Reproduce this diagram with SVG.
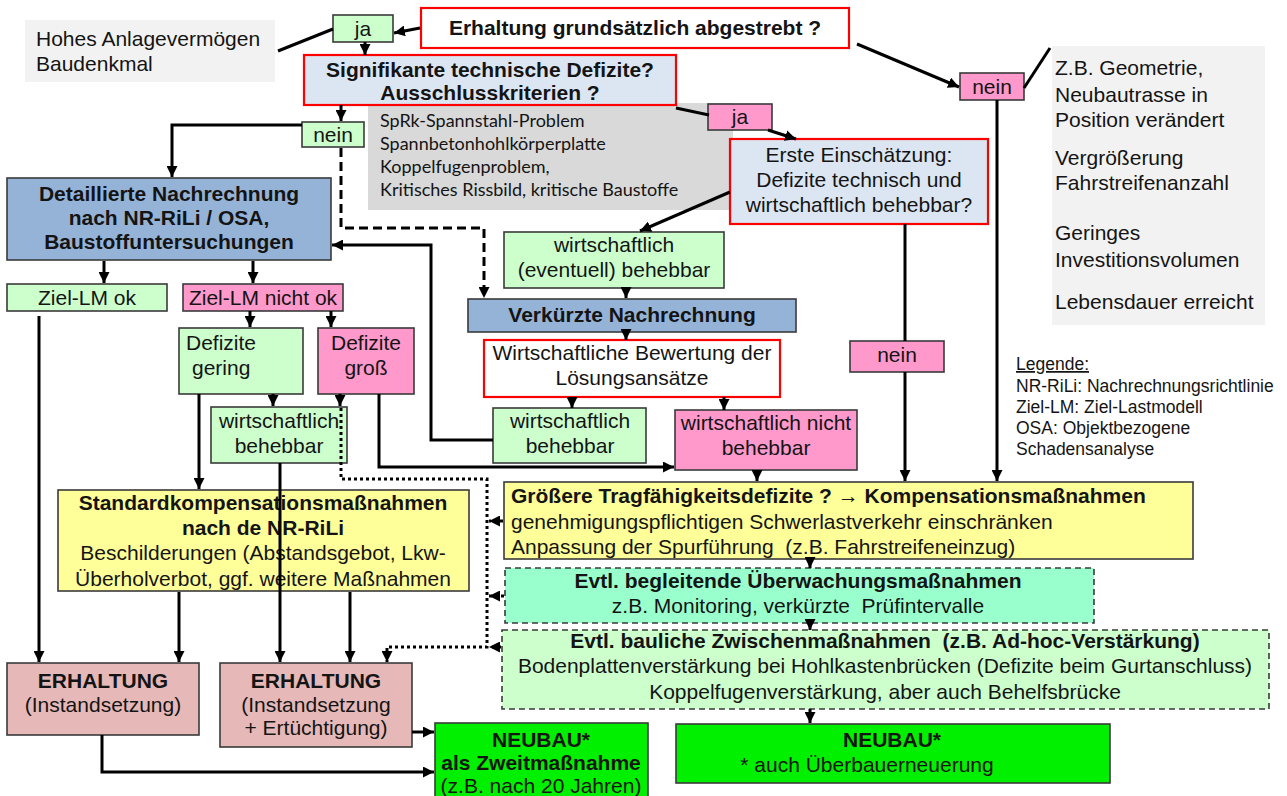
<svg xmlns="http://www.w3.org/2000/svg" width="1287" height="796" viewBox="0 0 1287 796">
<defs>
<style>
.t{font-family:"Liberation Sans",Arial,sans-serif;font-size:21px;fill:#141414}
.b{font-weight:bold}
.c{text-anchor:middle}
.cal{font-family:Lato,"Liberation Sans",sans-serif;font-size:18px}
.leg{font-size:17.5px}
.bx{stroke:#3a3a3a;stroke-width:1.6}
.rd{stroke:#ff0000;stroke-width:2.2}
.dbx{stroke:#3a3a3a;stroke-width:1.6;stroke-dasharray:6 4}
.gn{fill:#ccffcc}
.pk{fill:#ff99cc}
.lb{fill:#dce6f2}
.mb{fill:#95b3d7}
.ye{fill:#ffff99}
.er{fill:#e6b9b8}
.ng{fill:#00f000}
.ln{stroke:#000;stroke-width:3;fill:none}
.dash{stroke-dasharray:9 5}
.dot{stroke-dasharray:3 3}
</style>
<marker id="ah" markerUnits="userSpaceOnUse" viewBox="0 0 10 10" refX="10" refY="5" markerWidth="11" markerHeight="11" orient="auto">
<path d="M0,0 L10,5 L0,10 z" fill="#000"/>
</marker>
</defs>
<rect width="1287" height="796" fill="#ffffff"/>

<g id="n-hohes">
<rect x="25" y="20" width="250" height="62" fill="#f2f2f2"/>
<text class="t" x="36" y="46">Hohes Anlagevermögen</text>
<text class="t" x="36" y="71">Baudenkmal</text>
</g>
<g id="n-ja1">
<rect class="bx gn" x="333" y="15" width="60" height="27"/>
<text class="t c" x="363" y="36">ja</text>
</g>
<g id="n-erhaltung-q">
<rect class="rd" fill="#fff" x="421" y="8" width="428" height="40"/>
<text class="t b c" x="635" y="35">Erhaltung grundsätzlich abgestrebt ?</text>
</g>
<g id="n-sprk">
<rect x="368" y="103" width="365" height="107" fill="#d9d9d9"/>
<text class="t cal" x="380" y="127">SpRk-Spannstahl-Problem</text>
<text class="t cal" x="380" y="150">Spannbetonhohlkörperplatte</text>
<text class="t cal" x="380" y="173">Koppelfugenproblem,</text>
<text class="t cal" x="380" y="196">Kritisches Rissbild, kritische Baustoffe</text>
</g>
<g id="n-signifikant">
<rect class="rd lb" x="304" y="55" width="372" height="50"/>
<text class="t b c" x="490" y="77">Signifikante technische Defizite?</text>
<text class="t b c" x="490" y="100">Ausschlusskriterien ?</text>
</g>
<g id="n-nein1">
<rect class="bx gn" x="302" y="122" width="62" height="25"/>
<text class="t c" x="333" y="142">nein</text>
</g>
<g id="n-ja2">
<rect class="bx pk" x="708" y="104" width="64" height="26"/>
<text class="t c" x="740" y="124">ja</text>
</g>
<g id="n-nein2">
<rect class="bx pk" x="960" y="73" width="64" height="27"/>
<text class="t c" x="992" y="94">nein</text>
</g>
<g id="n-gruende">
<rect x="1052" y="46" width="213" height="279" fill="#f2f2f2"/>
<text class="t" x="1055" y="75">Z.B. Geometrie,</text>
<text class="t" x="1055" y="102">Neubautrasse in</text>
<text class="t" x="1055" y="127">Position verändert</text>
<text class="t" x="1055" y="165">Vergrößerung</text>
<text class="t" x="1055" y="190">Fahrstreifenanzahl</text>
<text class="t" x="1055" y="240">Geringes</text>
<text class="t" x="1055" y="267">Investitionsvolumen</text>
<text class="t" x="1055" y="309">Lebensdauer erreicht</text>
</g>
<g id="n-erste">
<rect class="rd lb" x="730" y="139" width="258" height="85"/>
<text class="t c" x="859" y="162">Erste Einschätzung:</text>
<text class="t c" x="859" y="187">Defizite technisch und</text>
<text class="t c" x="859" y="212">wirtschaftlich behebbar?</text>
</g>
<g id="n-detailliert">
<rect class="bx mb" x="7" y="178" width="324" height="82"/>
<text class="t b c" x="169" y="201">Detaillierte Nachrechnung</text>
<text class="t b c" x="169" y="225">nach NR-RiLi / OSA,</text>
<text class="t b c" x="169" y="249">Baustoffuntersuchungen</text>
</g>
<g id="n-wirt-event">
<rect class="bx gn" x="504" y="232" width="220" height="56"/>
<text class="t c" x="614" y="252">wirtschaftlich</text>
<text class="t c" x="614" y="277">(eventuell) behebbar</text>
</g>
<g id="n-verkuerzt">
<rect class="bx mb" x="468" y="299" width="328" height="33"/>
<text class="t b c" x="632" y="322">Verkürzte Nachrechnung</text>
</g>
<g id="n-bewertung">
<rect class="rd" fill="#fff" x="484" y="340" width="296" height="57"/>
<text class="t c" x="632" y="360">Wirtschaftliche Bewertung der</text>
<text class="t c" x="632" y="385">Lösungsansätze</text>
</g>
<g id="n-ziel-ok">
<rect class="bx gn" x="7" y="284" width="160" height="27"/>
<text class="t c" x="87" y="305">Ziel-LM ok</text>
</g>
<g id="n-ziel-nok">
<rect class="bx pk" x="183" y="284" width="160" height="27"/>
<text class="t c" x="263" y="305">Ziel-LM nicht ok</text>
</g>
<g id="n-def-gering">
<rect class="bx gn" x="179" y="328" width="124" height="66"/>
<text class="t" x="186" y="350">Defizite</text>
<text class="t" x="192" y="375">gering</text>
</g>
<g id="n-def-gross">
<rect class="bx pk" x="318" y="328" width="96" height="66"/>
<text class="t c" x="366" y="350">Defizite</text>
<text class="t c" x="366" y="375">groß</text>
</g>
<g id="n-wirt-beh-1">
<rect class="bx gn" x="211" y="407" width="136" height="56"/>
<text class="t c" x="279" y="428">wirtschaftlich</text>
<text class="t c" x="279" y="453">behebbar</text>
</g>
<g id="n-wirt-beh-2">
<rect class="bx gn" x="493" y="408" width="153" height="55"/>
<text class="t c" x="570" y="428">wirtschaftlich</text>
<text class="t c" x="570" y="453">behebbar</text>
</g>
<g id="n-wirt-nicht">
<rect class="bx pk" x="675" y="410" width="182" height="60"/>
<text class="t c" x="766" y="430">wirtschaftlich nicht</text>
<text class="t c" x="766" y="455">behebbar</text>
</g>
<g id="n-nein3">
<rect class="bx pk" x="850" y="341" width="94" height="31"/>
<text class="t c" x="897" y="362">nein</text>
</g>
<g id="n-legende">
<text class="t leg" x="1016" y="370" text-decoration="underline">Legende:</text>
<text class="t leg" x="1016" y="392">NR-RiLi: Nachrechnungsrichtlinie</text>
<text class="t leg" x="1016" y="413">Ziel-LM: Ziel-Lastmodell</text>
<text class="t leg" x="1016" y="434">OSA: Objektbezogene</text>
<text class="t leg" x="1016" y="455">Schadensanalyse</text>
</g>
<g id="n-groessere">
<rect class="bx ye" x="504" y="482" width="689" height="77"/>
<text class="t" x="511" y="503"><tspan class="b">Größere Tragfähigkeitsdefizite ? </tspan>→<tspan class="b"> Kompensationsmaßnahmen</tspan></text>
<text class="t" x="511" y="529">genehmigungspflichtigen Schwerlastverkehr einschränken</text>
<text class="t" x="511" y="554" xml:space="preserve">Anpassung der Spurführung  (z.B. Fahrstreifeneinzug)</text>
</g>
<g id="n-ueberwachung">
<rect class="dbx" fill="#99ffcc" x="505" y="568" width="589" height="55"/>
<text class="t b c" x="798" y="588">Evtl. begleitende Überwachungsmaßnahmen</text>
<text class="t c" x="798" y="613" xml:space="preserve">z.B. Monitoring, verkürzte  Prüfintervalle</text>
</g>
<g id="n-zwischen">
<rect class="dbx gn" x="502" y="630" width="767" height="79"/>
<text class="t b c" x="885" y="648" xml:space="preserve">Evtl. bauliche Zwischenmaßnahmen  (z.B. Ad-hoc-Verstärkung)</text>
<text class="t c" x="885" y="673">Bodenplattenverstärkung bei Hohlkastenbrücken (Defizite beim Gurtanschluss)</text>
<text class="t c" x="885" y="699">Koppelfugenverstärkung, aber auch Behelfsbrücke</text>
</g>
<g id="n-standard">
<rect class="bx ye" x="58" y="490" width="411" height="101"/>
<text class="t b c" x="263" y="510">Standardkompensationsmaßnahmen</text>
<text class="t b c" x="263" y="535">nach de NR-RiLi</text>
<text class="t c" x="263" y="560">Beschilderungen (Abstandsgebot, Lkw-</text>
<text class="t c" x="263" y="586">Überholverbot, ggf. weitere Maßnahmen</text>
</g>
<g id="n-erhaltung-1">
<rect class="bx er" x="7" y="663" width="192" height="72"/>
<text class="t b c" x="103" y="688">ERHALTUNG</text>
<text class="t c" x="103" y="712">(Instandsetzung)</text>
</g>
<g id="n-erhaltung-2">
<rect class="bx er" x="220" y="663" width="192" height="84"/>
<text class="t b c" x="316" y="688">ERHALTUNG</text>
<text class="t c" x="316" y="712">(Instandsetzung</text>
<text class="t c" x="316" y="735">+ Ertüchtigung)</text>
</g>
<g id="n-neubau-1">
<rect class="bx ng" x="435" y="723" width="213" height="78"/>
<text class="t b c" x="541" y="747">NEUBAU*</text>
<text class="t b c" x="541" y="770">als Zweitmaßnahme</text>
<text class="t c" x="541" y="793">(z.B. nach 20 Jahren)</text>
</g>
<g id="n-neubau-2">
<rect class="bx ng" x="676" y="724" width="434" height="59"/>
<text class="t b c" x="892" y="747">NEUBAU*</text>
<text class="t c" x="867" y="772">* auch Überbauerneuerung</text>
</g>

<g id="connectors">
<path class="ln" d="M420,28 L394,33" marker-end="url(#ah)"/>
<path class="ln" d="M278,51 L333,29"/>
<path class="ln" d="M365,42 L365,55" marker-end="url(#ah)"/>
<path class="ln" d="M857,44 L959,87" marker-end="url(#ah)"/>
<path class="ln" d="M1024,88 L1050,48"/>
<path class="ln" d="M341,105 L341,121" marker-end="url(#ah)"/>
<path class="ln" d="M676,108 L709,115"/>
<path class="ln" d="M768,130 L796,139" marker-end="url(#ah)"/>
<path class="ln" d="M302,125 L172,125 L172,177" marker-end="url(#ah)"/>
<path class="ln dash" d="M341,148 L341,228 L484,228 L484,298" marker-end="url(#ah)"/>
<path class="ln" d="M730,192 L640,231" marker-end="url(#ah)"/>
<path class="ln" d="M626,288 L626,298" marker-end="url(#ah)"/>
<path class="ln" d="M626,332 L626,340" marker-end="url(#ah)"/>
<path class="ln" d="M572,397 L572,408" marker-end="url(#ah)"/>
<path class="ln" d="M724,397 L724,410" marker-end="url(#ah)"/>
<path class="ln" d="M493,440 L431,440 L431,245 L332,245" marker-end="url(#ah)"/>
<path class="ln" d="M379,394 L379,467 L674,467" marker-end="url(#ah)"/>
<path class="ln" d="M104,261 L104,283" marker-end="url(#ah)"/>
<path class="ln" d="M253,261 L253,283" marker-end="url(#ah)"/>
<path class="ln" d="M250,311 L250,327" marker-end="url(#ah)"/>
<path class="ln" d="M331,311 L331,327" marker-end="url(#ah)"/>
<path class="ln" d="M273,394 L273,406" marker-end="url(#ah)"/>
<path class="ln" d="M340,394 L340,406" marker-end="url(#ah)"/>
<path class="ln" d="M199,394 L199,489" marker-end="url(#ah)"/>
<path class="ln" d="M39,316 L39,662" marker-end="url(#ah)"/>
<path class="ln" d="M280,463 L280,662" marker-end="url(#ah)"/>
<path class="ln" d="M179,592 L179,662" marker-end="url(#ah)"/>
<path class="ln" d="M350,592 L350,662" marker-end="url(#ah)"/>
<path class="ln dot" d="M341,408 L341,479 L487,479 L487,647 L387,647 L387,662" marker-end="url(#ah)"/>
<path class="ln dot" d="M503,521 L489,521" marker-end="url(#ah)"/>
<path class="ln dot" d="M504,596 L489,596" marker-end="url(#ah)"/>
<path class="ln dot" d="M501,647 L489,647" marker-end="url(#ah)"/>
<path class="ln" d="M757,470 L757,481" marker-end="url(#ah)"/>
<path class="ln" d="M905,224 L905,341"/>
<path class="ln" d="M905,372 L905,481" marker-end="url(#ah)"/>
<path class="ln" d="M997,100 L997,481" marker-end="url(#ah)"/>
<path class="ln" d="M810,559 L810,568" marker-end="url(#ah)"/>
<path class="ln" d="M810,623 L810,630" marker-end="url(#ah)"/>
<path class="ln" d="M810,709 L810,723" marker-end="url(#ah)"/>
<path class="ln" d="M412,732 L434,732" marker-end="url(#ah)"/>
<path class="ln" d="M102,735 L102,772 L434,772" marker-end="url(#ah)"/>
</g>
</svg>
